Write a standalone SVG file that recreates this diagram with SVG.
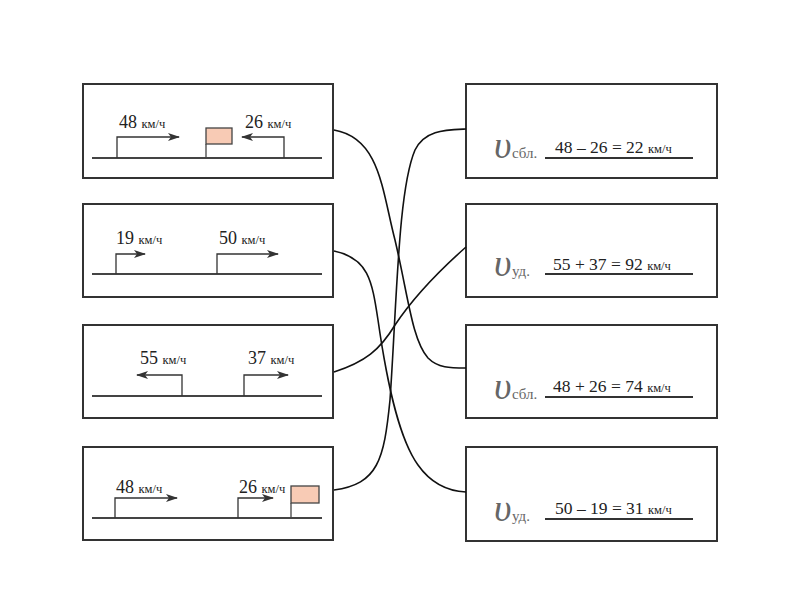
<svg xmlns="http://www.w3.org/2000/svg" width="800" height="600" viewBox="0 0 800 600">
<defs>
<marker id="ah" viewBox="0 0 12 8" refX="11" refY="4" markerWidth="12" markerHeight="8" markerUnits="userSpaceOnUse" orient="auto">
<path d="M0,0 L12,4 L0,8 L3,4 Z" fill="#333"/>
</marker>
<style>
.box{fill:#fff;stroke:#333;stroke-width:2}
.gnd{stroke:#444;stroke-width:2;fill:none}
.arr{stroke:#333;stroke-width:1.3;fill:none;marker-end:url(#ah)}
.pole{stroke:#444;stroke-width:1.3;fill:none}
.flag{fill:#f8cbb5;stroke:#444;stroke-width:1.3}
text{font-family:'Liberation Serif','Times New Roman','DejaVu Serif',serif}
.num{font-size:18px;fill:#222}
.u{font-size:12.5px}
.v{font-style:italic;font-size:38px;fill:#666}
.sub{font-size:15px;fill:#666}
.eq{font-size:17.5px;fill:#222}
.ul{stroke:#333;stroke-width:2}
.con{stroke:#111;stroke-width:1.6;fill:none}
</style>
</defs>
<rect width="800" height="600" fill="#fff"/>

<g id="left1">
<rect class="box" x="83" y="84" width="250" height="94"/>
<line class="gnd" x1="92" y1="158" x2="322" y2="158"/>
<path class="arr" d="M117,158 V137 H179"/>
<path class="arr" d="M284,158 V137 H242"/>
<line class="pole" x1="206" y1="144" x2="206" y2="158"/>
<rect class="flag" x="206" y="128" width="26" height="16"/>
<text class="num" x="119" y="128">48 <tspan class="u">км/ч</tspan></text>
<text class="num" x="245" y="128">26 <tspan class="u">км/ч</tspan></text>
</g>

<g id="left2">
<rect class="box" x="83" y="204" width="250" height="93"/>
<line class="gnd" x1="92" y1="274" x2="322" y2="274"/>
<path class="arr" d="M116,274 V254 H145"/>
<path class="arr" d="M217,274 V254 H278"/>
<text class="num" x="116" y="244">19 <tspan class="u">км/ч</tspan></text>
<text class="num" x="219" y="244">50 <tspan class="u">км/ч</tspan></text>
</g>

<g id="left3">
<rect class="box" x="83" y="325" width="250" height="93"/>
<line class="gnd" x1="92" y1="396" x2="322" y2="396"/>
<path class="arr" d="M182,396 V375 H137"/>
<path class="arr" d="M244,396 V375 H288"/>
<text class="num" x="140" y="364">55 <tspan class="u">км/ч</tspan></text>
<text class="num" x="248" y="364">37 <tspan class="u">км/ч</tspan></text>
</g>

<g id="left4">
<rect class="box" x="83" y="447" width="250" height="93"/>
<line class="gnd" x1="92" y1="518" x2="322" y2="518"/>
<path class="arr" d="M115,518 V498 H177"/>
<path class="arr" d="M238,518 V498 H273"/>
<line class="pole" x1="291" y1="503" x2="291" y2="518"/>
<rect class="flag" x="291" y="486" width="28" height="17"/>
<text class="num" x="116" y="493">48 <tspan class="u">км/ч</tspan></text>
<text class="num" x="239" y="493">26 <tspan class="u">км/ч</tspan></text>
</g>

<g id="right1">
<rect class="box" x="466" y="84" width="251" height="94"/>
<text class="v" x="494" y="158">υ</text>
<text class="sub" x="512" y="158">сбл.</text>
<line class="ul" x1="545" y1="158" x2="693" y2="158"/>
<text class="eq" x="555" y="153">48 – 26 = 22 <tspan class="u">км/ч</tspan></text>
</g>

<g id="right2">
<rect class="box" x="466" y="204" width="251" height="93"/>
<text class="v" x="494" y="276">υ</text>
<text class="sub" x="512" y="276">уд.</text>
<line class="ul" x1="545" y1="274" x2="693" y2="274"/>
<text class="eq" x="553" y="270">55 + 37 = 92 <tspan class="u">км/ч</tspan></text>
</g>

<g id="right3">
<rect class="box" x="466" y="325" width="251" height="93"/>
<text class="v" x="494" y="399">υ</text>
<text class="sub" x="512" y="399">сбл.</text>
<line class="ul" x1="545" y1="397" x2="693" y2="397"/>
<text class="eq" x="553" y="392">48 + 26 = 74 <tspan class="u">км/ч</tspan></text>
</g>

<g id="right4">
<rect class="box" x="466" y="447" width="251" height="94"/>
<text class="v" x="494" y="521">υ</text>
<text class="sub" x="512" y="521">уд.</text>
<line class="ul" x1="545" y1="519" x2="693" y2="519"/>
<text class="eq" x="555" y="514">50 – 19 = 31 <tspan class="u">км/ч</tspan></text>
</g>

<g id="connectors">
<path class="con" d="M334,130 C380,138 382,190 395,240 C408,295 412,340 428,358 C438,368 450,368 466,368"/>
<path class="con" d="M334,251 C368,258 372,280 378,320 C388,390 400,440 418,465 C430,482 445,491 466,492"/>
<path class="con" d="M334,372 C365,362 380,350 395,325 C415,295 440,270 466,247"/>
<path class="con" d="M334,490 C378,484 384,460 390,400 C397,300 398,190 415,150 C425,130 445,130 466,129"/>
</g>
</svg>
